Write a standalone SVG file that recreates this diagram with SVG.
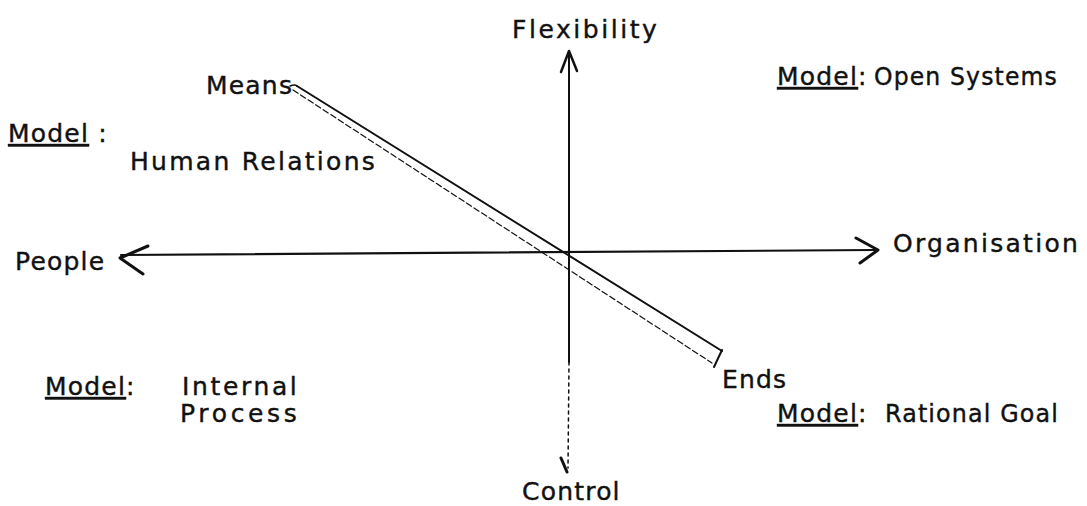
<svg xmlns="http://www.w3.org/2000/svg" width="1087" height="506" viewBox="0 0 1087 506">
<style>
text{font-family:"DejaVu Sans",sans-serif;font-size:25px;letter-spacing:1.2px;fill:#111;stroke:#111;stroke-width:0.4px}
.u{text-decoration:underline}
.ln{stroke:#111;fill:none;stroke-linecap:round;stroke-linejoin:round}
</style>
<rect width="1087" height="506" fill="#fff"/>
<g id="connectors">
<g id="axis-vertical">
<line class="ln" x1="569" y1="54" x2="569" y2="362" stroke-width="2"/>
<line class="ln" x1="569" y1="362" x2="568" y2="468" stroke-width="1.5" stroke-dasharray="3 4"/>
<polyline class="ln" points="561,72 569,51 577,71" stroke-width="2.5"/>
<polyline class="ln" points="561,458 567,472" stroke-width="3"/>
</g>
<g id="axis-horizontal">
<line class="ln" x1="121" y1="255" x2="875" y2="250" stroke-width="2.2"/>
<polyline class="ln" points="148,246 120,258 143,274" stroke-width="3"/>
<polyline class="ln" points="856,238 878,250 860,263" stroke-width="3"/>
</g>
<g id="diagonal">
<line class="ln" x1="297" y1="86" x2="722" y2="351" stroke-width="2"/>
<line class="ln" x1="293" y1="90" x2="712" y2="363" stroke-width="1.2" stroke-dasharray="6 3"/>
<line class="ln" x1="722" y1="350" x2="714" y2="367" stroke-width="2"/>
<path class="ln" d="M290,86 Q295,84 297,86" stroke-width="1.5"/>
</g>
</g>
<g id="n-flexibility"><text x="512" y="38" textLength="146" lengthAdjust="spacing">Flexibility</text></g>
<g id="n-control"><text x="522" y="500">Control</text></g>
<g id="n-people"><text x="15" y="270">People</text></g>
<g id="n-organisation"><text x="893" y="252" textLength="186" lengthAdjust="spacing">Organisation</text></g>
<g id="n-means"><text x="206" y="94">Means</text></g>
<g id="n-ends"><text x="722" y="388">Ends</text></g>
<g id="n-open-systems"><text x="777" y="85"><tspan class="u">Model</tspan>:</text><text x="874" y="85" textLength="184" lengthAdjust="spacingAndGlyphs">Open Systems</text></g>
<g id="n-human-relations"><text x="8" y="142"><tspan class="u">Model</tspan> :</text><text x="130" y="170" textLength="246" lengthAdjust="spacing">Human Relations</text></g>
<g id="n-internal-process"><text x="45" y="395"><tspan class="u">Model</tspan>:</text><text x="182" y="395" textLength="116" lengthAdjust="spacing">Internal</text><text x="180" y="422" textLength="118" lengthAdjust="spacing">Process</text></g>
<g id="n-rational-goal"><text x="777" y="422"><tspan class="u">Model</tspan>:</text><text x="885" y="422" textLength="174" lengthAdjust="spacingAndGlyphs">Rational Goal</text></g>
</svg>
